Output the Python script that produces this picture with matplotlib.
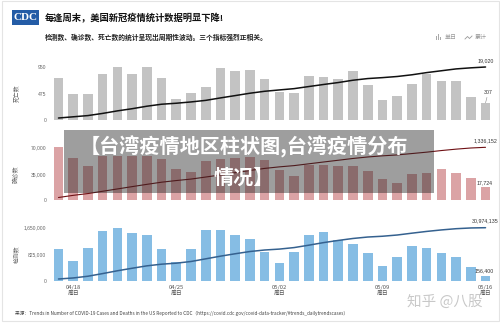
import matplotlib
matplotlib.use("Agg")
import matplotlib.pyplot as plt
from matplotlib.patches import Rectangle
from matplotlib.lines import Line2D

plt.rcParams['font.family'] = ['Noto Sans CJK SC', 'DejaVu Sans']

# 04/17 .. 05/16, one value per day
deaths = [747, 460, 466, 819, 955, 819, 944, 753, 376, 490,
          597, 926, 878, 896, 735, 508, 490, 795, 777, 735,
          878, 627, 352, 430, 645, 824, 699, 699, 406, 307]
deaths_cum = [709, 1145, 1588, 2365, 3271, 4048, 4944, 5659, 6016, 6481,
              7047, 7926, 8759, 9609, 10307, 10789, 11254, 12008, 12745, 13443,
              14276, 14871, 15205, 15613, 16225, 17007, 17671, 18334, 18720, 19020]

cases = [71000, 55300, 45200, 58900, 59000, 59000, 58000, 55000, 42000, 37700,
         51900, 54000, 56200, 57000, 52700, 39400, 31900, 46000, 46000, 44700,
         45400, 38100, 28700, 23400, 35000, 35400, 41100, 35800, 29300, 17724]
cases_cum = [70230, 124930, 169640, 227900, 286260, 344620, 402000, 456390, 497930, 535220,
             586560, 639980, 695560, 751940, 804070, 843040, 874600, 920100, 965600, 1009810,
             1054720, 1092410, 1120800, 1143950, 1178570, 1213580, 1254240, 1289650, 1318630, 1336152]

tests = [1001000, 608000, 1020000, 1557000, 1650000, 1483000, 1412000, 989000, 587000, 989000,
         1567000, 1567000, 1421000, 1310000, 896000, 538000, 887000, 1412000, 1514000, 1279000,
         1156000, 847000, 463000, 723000, 1081000, 1032000, 877000, 723000, 433000, 156400]
tests_cum = [994000, 1598000, 2612000, 4159000, 5798000, 7271000, 8674000, 9656000, 10240000, 11222000,
             12779000, 14335000, 15747000, 17049000, 17939000, 18473000, 19354000, 20757000, 22261000, 23531000,
             24680000, 25522000, 25982000, 26700000, 27774000, 28799000, 29670000, 30388000, 30818000, 30974135]

tick_pos = [1, 8, 15, 22, 29]
tick_dates = ['04/18', '04/25', '05/02', '05/09', '05/16']
weekday = '周日'

W, H = 500, 323
NUM_FONT = ['Liberation Sans', 'DejaVu Sans']


def fx(px):
    return px / W


def fy(py):
    return 1 - py / H


def panel(fig, zero_px, daily, cum, top, ylabel, bar_color, line_color, lw,
          daily_label, cum_label, show_dates=False, leader=False):
    span = 53.0
    ax = fig.add_axes([fx(51.1), fy(zero_px), fx(441.8), span * 1.12 / H])
    x = list(range(len(daily)))
    ax.bar(x, daily, width=0.65, color=bar_color, zorder=1)
    ax.set_xlim(-0.5, len(daily) - 0.5)
    ax.set_ylim(0, top * 1.12)
    ax.set_yticks([0, top / 2, top])
    ax.set_yticklabels(['0', f'{int(top / 2):,}', f'{int(top):,}'],
                       family=NUM_FONT, fontsize=3.6, color='#666666')
    ax.tick_params(axis='y', length=0, pad=3.5)
    if show_dates:
        ax.set_xticks(tick_pos)
        ax.set_xticklabels([d + '\n' + weekday for d in tick_dates],
                           fontsize=4.2, color='#555555', linespacing=1.3)
        ax.tick_params(axis='x', length=0, pad=3)
    else:
        ax.set_xticks([])
    for s in ax.spines.values():
        s.set_visible(False)
    ax.patch.set_alpha(0)

    ax2 = ax.twinx()
    ax2.plot(x, cum, color=line_color, lw=lw, zorder=3, solid_capstyle='round')
    ax2.set_ylim(0, cum[-1] * 1.12)
    ax2.set_yticks([])
    for s in ax2.spines.values():
        s.set_visible(False)

    ax2.annotate(cum_label, (x[-1], cum[-1]), xytext=(0, 3), textcoords='offset points',
                 ha='center', va='bottom', fontsize=3.8, color='#333333', family=NUM_FONT)
    if leader:
        ax.annotate(daily_label, (x[-1], daily[-1]), xytext=(2, 6), textcoords='offset points',
                    ha='center', va='bottom', fontsize=3.8, color='#333333', family=NUM_FONT,
                    arrowprops=dict(arrowstyle='-', color='#888888', lw=0.4, shrinkA=0, shrinkB=0))
    else:
        ax.annotate(daily_label, (x[-1], daily[-1]), xytext=(-1, 1.5), textcoords='offset points',
                    ha='center', va='bottom', fontsize=3.8, color='#333333', family=NUM_FONT)

    fig.text(fx(16), fy(zero_px - span / 2), ylabel, rotation=90, ha='center', va='center',
             fontsize=4.2, color='#666666')
    return ax


fig = plt.figure(figsize=(5, 3.23), dpi=100)
fig.patch.set_facecolor('white')

panel(fig, 120.0, deaths, deaths_cum, 950, '死亡数', '#c3c3c3', '#111111', 1.1,
      '307', '19,020', leader=True)
panel(fig, 200.3, cases, cases_cum, 70000, '确诊数', '#dba3a5', '#6e1014', 0.8,
      '17,724', '1,336,152')
panel(fig, 280.7, tests, tests_cum, 1650000, '检测数', '#86bde4', '#35618f', 1.1,
      '156,400', '30,974,135', show_dates=True)

# CDC logo
fig.patches.append(Rectangle((fx(12), fy(25)), fx(27), 15 / H, transform=fig.transFigure,
                             facecolor='#245ca6', edgecolor='none'))
fig.text(fx(25.5), fy(17.3), 'CDC', ha='center', va='center', color='white',
         fontsize=8, fontweight='bold', family=['Liberation Serif', 'DejaVu Serif'])

fig.text(fx(45), fy(18), '每逢周末，美国新冠疫情统计数据明显下降!', ha='left', va='center',
         fontsize=6.7, fontweight='bold', color='#111111')
fig.text(fx(45), fy(37), '检测数、确诊数、死亡数的统计呈现出周期性波动。三个指标强烈正相关。',
         ha='left', va='center', fontsize=4.9, fontweight='bold', color='#222222')

# small legend at top right
for i, h in enumerate([4, 6, 3]):
    fig.patches.append(Rectangle((fx(436 + i * 2), fy(40)), fx(1.2), h / H,
                                 transform=fig.transFigure, facecolor='#aaaaaa', edgecolor='none'))
fig.text(fx(445), fy(37.5), '单日', ha='left', va='center', fontsize=4.3, color='#999999')
fig.lines.append(Line2D([fx(465), fx(467.5), fx(469.5), fx(472)],
                        [fy(39), fy(36.5), fy(38.5), fy(36)],
                        transform=fig.transFigure, color='#999999', lw=0.6))
fig.text(fx(475), fy(37.5), '累计', ha='left', va='center', fontsize=4.3, color='#999999')

fig.text(fx(15), fy(313), '来源：Trends in Number of COVID-19 Cases and Deaths in the US Reported to CDC'
         '（https://covid.cdc.gov/covid-data-tracker/#trends_dailytrendscases）',
         ha='left', va='center', fontsize=3.4, color='#444444')

# overlay banner
fig.patches.append(Rectangle((fx(64), fy(193)), fx(370), 63 / H, transform=fig.transFigure,
                             facecolor='#282828', alpha=0.45, edgecolor='none', zorder=5))
fig.text(fx(244), fy(147), '【台湾疫情地区柱状图,台湾疫情分布', ha='center', va='center',
         fontsize=14.5, fontweight='bold', color='white', zorder=6)
fig.text(fx(244), fy(177), '情况】', ha='center', va='center',
         fontsize=14.5, fontweight='bold', color='white', zorder=6)

# watermark
fig.text(fx(445), fy(302), '知乎 @八股', ha='center', va='center', fontsize=10.5,
         color='#bbbbbb', alpha=0.8, zorder=6)

fig.patches.append(Rectangle((fx(1.5), fy(321)), fx(497), 320 / H, transform=fig.transFigure,
                             facecolor='none', edgecolor='#e4e4e4', lw=0.8))

fig.savefig('out.png', dpi=100)
